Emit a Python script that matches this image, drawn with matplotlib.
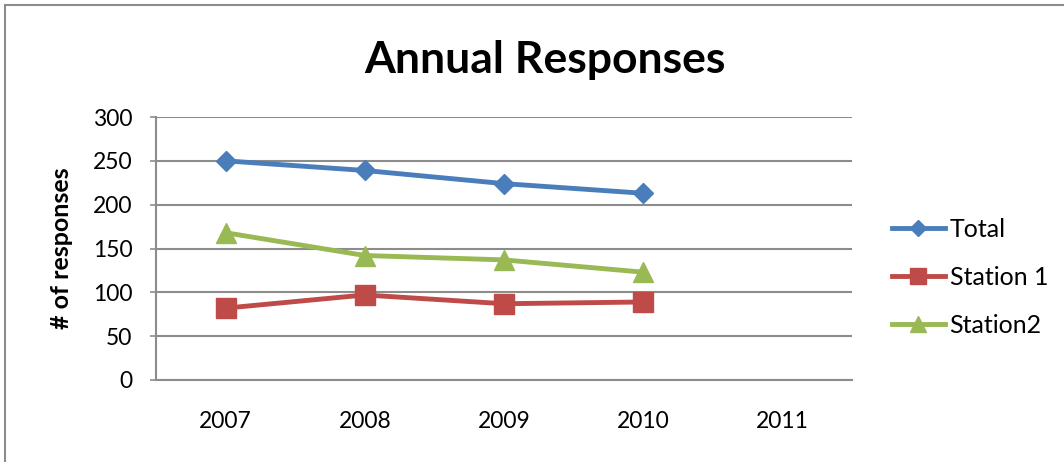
import matplotlib
matplotlib.use("Agg")
import matplotlib.pyplot as plt
from matplotlib.lines import Line2D

years = ["2007", "2008", "2009", "2010", "2011"]
total = [250, 239, 224, 213]
station1 = [82, 97, 87, 89]
station2 = [168, 142, 137, 123]
series_names = ["Total", "Station 1", "Station2"]
y_ticks = [0, 50, 100, 150, 200, 250, 300]

plt.rcParams['font.family'] = ['Lato', 'DejaVu Sans']

fig = plt.figure(figsize=(10.64, 4.62), dpi=100)
W, H = 1064, 462
ax = fig.add_axes([156 / W, 1 - 380 / H, (852 - 156) / W, (380 - 117) / H])

xs = [i + 0.5 for i in range(len(years))]
colors = ["#4A7EBB", "#BE4B48", "#98B954"]
markers = ["D", "s", "^"]
msizes = [10, 14, 14]
for vals, c, m, ms, name in zip([total, station1, station2], colors, markers, msizes, series_names):
    ax.plot(xs[:len(vals)], vals, color=c, lw=3.5, marker=m, markersize=ms,
            markeredgecolor=c, label=name, zorder=3)

ax.set_xlim(0, len(years))
ax.set_ylim(0, 300)
ax.set_yticks(y_ticks)
ax.set_xticks(xs)
ax.set_xticklabels(years)
ax.grid(axis='y', color='#8C8C8C', lw=1.5)
ax.set_axisbelow(True)
for s in ['top', 'right']:
    ax.spines[s].set_visible(False)
for s in ['left', 'bottom']:
    ax.spines[s].set_color('#8C8C8C')
    ax.spines[s].set_linewidth(1.5)
ax.tick_params(axis='y', length=4, width=1.2, color='#8C8C8C', labelsize=16.5, pad=13)
ax.tick_params(axis='x', length=0, labelsize=16.5, pad=22)
ax.set_ylabel("# of responses", fontsize=18, fontweight='bold', labelpad=14)

fig.text(545 / W, 1 - 73 / H, "Annual Responses", fontsize=32, fontweight='bold',
         ha='center', va='baseline')

handles = [Line2D([0], [0], color=c, lw=3.5, marker=m, markersize=ms * 0.85, markeredgecolor=c)
           for c, m, ms in zip(colors, markers, msizes)]
fig.legend(handles, series_names, loc='upper left', bbox_to_anchor=(892 / W, 1 - 218 / H),
           frameon=False, fontsize=18, handlelength=2.1, handletextpad=0.2,
           labelspacing=1.0, borderaxespad=0, borderpad=0)

fig.add_artist(Line2D([5 / W, 5 / W], [0, 1 - 5 / H], color='#8C8C8C', lw=1.5,
                      transform=fig.transFigure))
fig.add_artist(Line2D([5 / W, 1], [1 - 5 / H, 1 - 5 / H], color='#8C8C8C', lw=1.5,
                      transform=fig.transFigure))

fig.savefig("out.png", dpi=100)
